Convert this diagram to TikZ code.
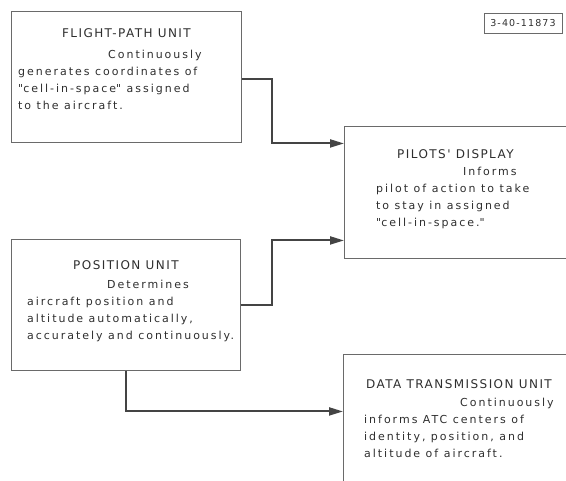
\documentclass[tikz,border=0pt]{standalone}
\usepackage{fontspec}
\setmainfont{DejaVu Sans}[LetterSpace=18]
\newfontfamily\titlefont{DejaVu Sans}[LetterSpace=12]
\usetikzlibrary{arrows.meta, positioning}
\definecolor{boxGrey}{HTML}{6A6A6A}
\definecolor{inkGrey}{HTML}{2E2E2E}
\definecolor{linkGrey}{HTML}{444444}
\tikzset{
  unitbox/.style   = {draw=boxGrey, line width=0.9pt, inner sep=0pt, anchor=north west},
  unittitle/.style = {inner sep=0pt, font=\titlefont\fontsize{12}{14}\selectfont, text=inkGrey},
  unittext/.style  = {inner sep=0pt, anchor=north west, align=left,
                      font=\fontsize{11}{17}\selectfont, text=inkGrey},
  link/.style      = {linkGrey, line width=2pt, -{Triangle[length=14pt, width=8pt]}},
  figbox/.style    = {draw=boxGrey, line width=0.9pt, inner sep=0pt, text=inkGrey,
                      font=\titlefont\fontsize{9.5}{11}\selectfont, minimum width=78pt, minimum height=20pt},
}

\begin{document}
\begin{tikzpicture}[x=1pt, y=-1pt]
  \useasboundingbox (0,0) rectangle (566,481);
  \clip (0,0) rectangle (566,481);

  % unit boxes
  \node[unitbox, minimum width=230pt, minimum height=131pt] (flight)   at (11,11)   {};
  \node[unitbox, minimum width=229pt, minimum height=131pt] (position) at (11,239)  {};
  \node[unitbox, minimum width=222pt, minimum height=132pt] (pilots)   at (344,126) {};
  \node[unitbox, minimum width=240pt, minimum height=160pt] (data)     at (343,354) {};
  \node[figbox] (figno) at (523,23) {3-40-11873};

  % titles
  \node[unittitle, below=17pt of flight.north]   (flighttitle)   {FLIGHT-PATH UNIT};
  \node[unittitle, below=21pt of position.north] (positiontitle) {POSITION UNIT};
  \node[unittitle, below=23pt of pilots.north]   (pilotstitle)   {PILOTS' DISPLAY};
  \node[unittitle] (datatitle) at (459,384) {DATA TRANSMISSION UNIT};

  % descriptions
  \node[unittext] (flighttext) at (18,50)
    {\hspace*{90pt}Continuously\\generates coordinates of\\\textquotedbl cell-in-space\textquotedbl\ assigned\\to the aircraft.};
  \node[unittext] (positiontext) at (27,280)
    {\hspace*{80pt}Determines\\aircraft position and\\altitude automatically,\\accurately and continuously.};
  \node[unittext] (pilotstext) at (376,167)
    {\hspace*{87pt}Informs\\pilot of action to take\\to stay in assigned\\\textquotedbl cell-in-space.\textquotedbl};
  \node[unittext] (datatext) at (364,398)
    {\hspace*{96pt}Continuously\\informs ATC centers of\\identity, position, and\\altitude of aircraft.};

  % connectors
  \draw[link] ([yshift=-2pt]flight.east) -- ++(30,0) |- ([yshift=49pt]pilots.west);
  \draw[link] (position.east) -- ++(31,0) |- ([yshift=-48pt]pilots.west);
  \draw[link] (position.south) |- ([yshift=23pt]data.west);
\end{tikzpicture}
\end{document}
